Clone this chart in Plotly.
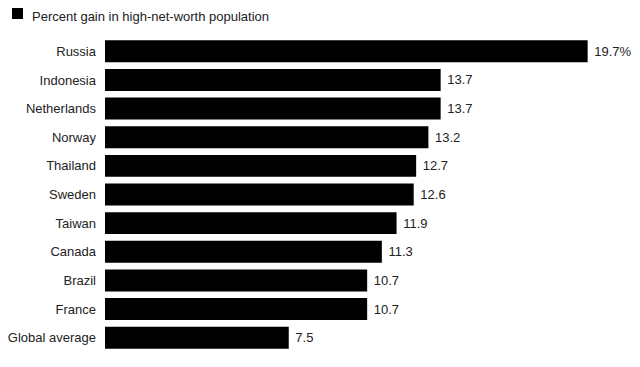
import plotly.graph_objects as go

categories = ["Russia", "Indonesia", "Netherlands", "Norway", "Thailand", "Sweden",
              "Taiwan", "Canada", "Brazil", "France", "Global average"]
values = [19.7, 13.7, 13.7, 13.2, 12.7, 12.6, 11.9, 11.3, 10.7, 10.7, 7.5]
value_labels = ["19.7%", "13.7", "13.7", "13.2", "12.7", "12.6", "11.9", "11.3", "10.7", "10.7", "7.5"]
series_name = "Percent gain in high-net-worth population"

FONT = "Liberation Sans, Arial, sans-serif"
OFF = 8  # page body margin
W, H = 640 - OFF, 367 - OFF
L, R, T, B = 105 - OFF, 0, 37 - OFF, 15

fig = go.Figure(go.Bar(
    x=values, y=categories, orientation="h",
    marker=dict(color="#000000", line=dict(width=0)),
    text=[" " + t for t in value_labels], textposition="outside",
    textfont=dict(size=13, color="#222222", family=FONT),
    cliponaxis=False, name=series_name, showlegend=False,
))

pw, ph = W - L - R, H - T - B
def px_x(x): return (x - OFF - L) / pw
def px_y(y): return (H - B - (y - OFF)) / ph

fig.add_shape(type="rect", xref="paper", yref="paper",
              x0=px_x(12), x1=px_x(23), y0=px_y(19), y1=px_y(8),
              fillcolor="#000000", line=dict(width=0))
fig.add_annotation(text=series_name, xref="paper", yref="paper",
                   x=px_x(31), y=px_y(16), xanchor="left", yanchor="middle",
                   borderpad=0, showarrow=False,
                   font=dict(size=13, color="#222222", family=FONT))

fig.update_layout(
    width=W, height=H,
    margin=dict(l=L, r=R, t=T, b=B, autoexpand=False),
    paper_bgcolor="white", plot_bgcolor="white",
    bargap=0.233,
    font=dict(family=FONT, size=13, color="#222222"),
    xaxis=dict(range=[0, 535/24.5], visible=False, fixedrange=True, automargin=False),
    yaxis=dict(autorange="reversed", showgrid=False, zeroline=False, showline=False,
               automargin=False, ticks="", ticklabelstandoff=8,
               tickfont=dict(size=13, color="#222222", family=FONT)),
    showlegend=False,
)

fig.write_html("out.html")
